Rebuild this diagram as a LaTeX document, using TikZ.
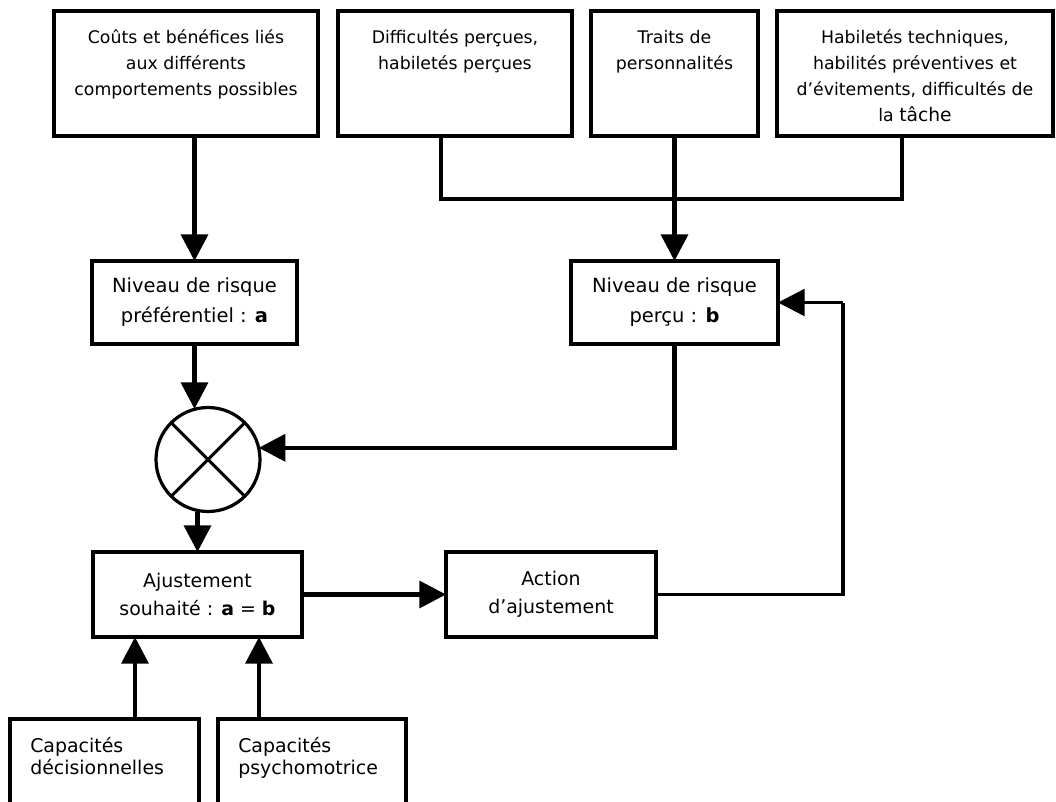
\documentclass[tikz,border=0pt]{standalone}
\usepackage{fontspec}
\setmainfont{DejaVu Sans}
\usetikzlibrary{arrows.meta,calc}
\begin{document}
\begin{tikzpicture}[x=0.75pt,y=-0.75pt,
  box/.style={draw,line width=2.4pt,inner sep=0pt,outer sep=0pt},
  toptext/.style={anchor=north,align=center,inner sep=0pt,font=\fontsize{13}{19.5}\selectfont},
  midtext/.style={align=center,font=\fontsize{14.6}{22.5}\selectfont},
  lowtext/.style={anchor=north west,align=left,inner sep=0pt,font=\fontsize{14.2}{16.5}\selectfont},
  arr/.style={line width=3.4pt,-{Triangle[length=20pt,width=20pt]}},
  arrthin/.style={line width=2.6pt,-{Triangle[length=20pt,width=20pt]}},
  conn/.style={line width=2.5pt}]
\path[use as bounding box] (0,0) rectangle (1056,801);
\clip (0,0) rectangle (1056,801);
\fill[white] (0,0) rectangle (1056,801);

% top boxes
\node[box,minimum width=198pt,minimum height=93.75pt] (c1) at (186,73.5) {};
\node[box,minimum width=175.5pt,minimum height=93.75pt] (c2) at (455,73.5) {};
\node[box,minimum width=125.25pt,minimum height=93.75pt] (c3) at (674.5,73.5) {};
\node[box,minimum width=207pt,minimum height=93.75pt] (c4) at (915,73.5) {};
\node[toptext] (t1) at (186,25) {\strut Coûts et bénéfices liés\\aux différents\\comportements possibles};
\node[toptext] (t2) at (455,25) {\strut Difficultés perçues,\\habiletés perçues};
\node[toptext] (t3) at (674.5,25) {\strut Traits de\\personnalités};
\node[toptext] (t4) at (915,25) {\strut Habiletés techniques,\\habilités préventives et\\d’évitements, difficultés de\\la {\fontsize{14}{19.5}\selectfont tâche}};

% middle boxes
\node[box,midtext,minimum width=153.75pt,minimum height=62.25pt] (pa) at (194.5,302.5) {Niveau de risque\\préférentiel : \textbf{a}};
\node[box,midtext,minimum width=155.25pt,minimum height=62.25pt] (pb) at (674.5,302.5) {Niveau de risque\\perçu : \textbf{b}};

% comparator
\node[draw,circle,line width=2.4pt,minimum size=78pt,inner sep=0pt,outer sep=0pt] (circ) at (208,459.5) {};
\draw[line width=2.2pt] (circ.45) -- (circ.225) (circ.135) -- (circ.315);

% lower boxes
\node[box,midtext,font=\fontsize{14.2}{21}\selectfont,minimum width=156.75pt,minimum height=63.75pt] (aj) at (197.5,594.5) {Ajustement\\souhaité : \textbf{a} = \textbf{b}};
\node[box,midtext,font=\fontsize{14.2}{21}\selectfont,minimum width=157.5pt,minimum height=63.75pt] (act) at (551,594.5) {Action\\d’ajustement};
\node[box,minimum width=141.75pt,minimum height=83.25pt] (cd) at (104.5,774.5) {};
\node[box,minimum width=141pt,minimum height=83.25pt] (cp) at (312,774.5) {};
\node[lowtext] (td) at (30,737) {\strut Capacités\\décisionnelles};
\node[lowtext] (tp) at (238,737) {\strut Capacités\\psychomotrice};

% helper coordinates
\coordinate (j1) at (441,199);
\coordinate (j2) at (902,199);
\coordinate (f) at (843,302.5);
\coordinate (u1) at (135,0);
\coordinate (u2) at (259,0);

% connectors
\draw[arr] (pa.north |- c1.south) -- (pa.north);
\draw[conn] (c2.south -| j1) -- (j1) -- (j2) -- (c4.south -| j2);
\draw[arr] (c3.south) -- (pb.north);
\draw[arr] (pa.south) -- ($(pa.south |- circ.north)+(0,1.5)$);
\draw[arr] (pb.south) |- (circ.13);
\draw[arr] (aj.north |- circ.south) -- (aj.north);
\draw[arr] (aj.east) -- (act.west);
\draw[conn] (act.east) -| (f);
\draw[arrthin] (f) -- (pb.east);
\draw[arr] (cd.north -| u1) -- (aj.south -| u1);
\draw[arr] (cp.north -| u2) -- (aj.south -| u2);
\end{tikzpicture}
\end{document}
